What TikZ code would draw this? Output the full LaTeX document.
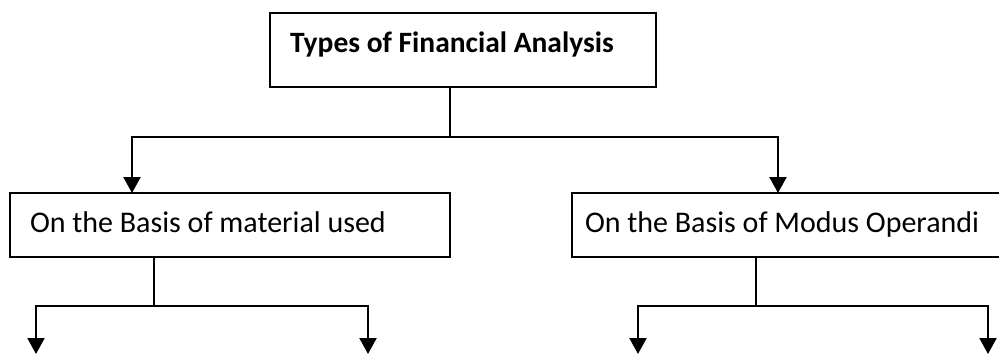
\documentclass[tikz,border=0pt]{standalone}
\usepackage{fontspec}
\setmainfont{Carlito}
\usetikzlibrary{arrows.meta}

\begin{document}
\begin{tikzpicture}[
    x=1pt, y=-1pt,
    box/.style      ={rectangle, draw=black, line width=1.4pt, inner ysep=0pt, outer sep=0pt,
                      align=flush left, anchor=north west, font=\fontsize{30}{34}\selectfont},
    boxtitle/.style ={box, font=\fontsize{29.5}{34}\selectfont\bfseries},
    arr/.style      ={line width=2.2pt, -{Triangle[length=16pt, width=17pt]}},
    link/.style     ={line width=1.7pt}
  ]
    % page frame, 999 x 360
    \useasboundingbox (0,0) rectangle (999,360);
    \clip (0,0) rectangle (999,360);

    % --- boxes ---
    \node[boxtitle, inner xsep=20pt, text width=346pt, text height=39pt, text depth=35pt]
      (types) at (270,13) {Types of Financial Analysis};
    \node[box, inner xsep=20pt, text width=400pt, text height=39pt, text depth=25pt]
      (matl) at (10,193) {On the Basis of material used};
    \node[box, inner xsep=13pt, text width=420pt, text height=39pt, text depth=25pt]
      (modus) at (572,193) {On the Basis of Modus Operandi};

    % junctions and free arrow ends
    \coordinate (jtop) at (450,137);
    \coordinate (cmat) at (132,137);
    \coordinate (cmod) at (778,137);
    \coordinate (jmat) at (154,306);
    \coordinate (jmod) at (756,306);
    \coordinate (e1) at (36,354);
    \coordinate (e2) at (368,354);
    \coordinate (e3) at (638,354);
    \coordinate (e4) at (988,354);

    % --- first level ---
    \draw[link] (jtop |- types.south) -- (jtop);
    \draw[arr] (jtop) -| (cmat |- matl.north);
    \draw[arr] (jtop) -| (cmod |- modus.north);

    % --- second level ---
    \draw[link] (jmat |- matl.south) -- (jmat);
    \draw[arr] (jmat) -| (e1);
    \draw[arr] (jmat) -| (e2);
    \draw[link] (jmod |- modus.south) -- (jmod);
    \draw[arr] (jmod) -| (e3);
    \draw[arr] (jmod) -| (e4);
\end{tikzpicture}
\end{document}
